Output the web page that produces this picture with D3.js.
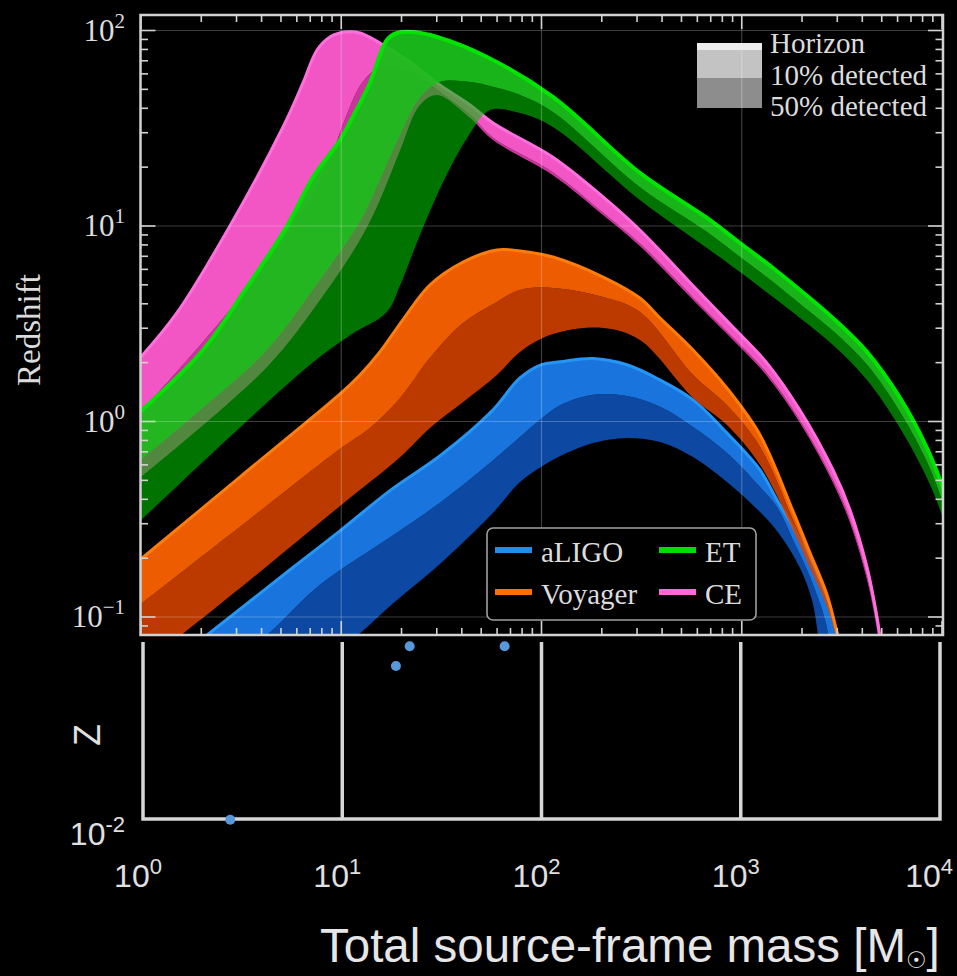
<!DOCTYPE html>
<html>
<head>
<meta charset="utf-8">
<script src="https://cdn.jsdelivr.net/npm/d3@7"></script>
<style>
  html, body { margin: 0; padding: 0; background: #000; }
  svg { display: block; }
</style>
</head>
<body>
<svg id="chart" width="957" height="976"></svg>
<script>
// ---------------------------------------------------------------
// Detection reach of ground-based GW detectors: redshift of the
// horizon, and the redshift at which 10% / 50% of sources are seen,
// as a function of total source-frame mass.  Pairs are [M, z].
// ---------------------------------------------------------------
const massTicks = [1, 10, 100, 1000, 10000];
const redshiftTicks = [0.1, 1, 10, 100];
const detectorNames = ["aLIGO", "Voyager", "ET", "CE"];
const reachLabels = ["Horizon", "10% detected", "50% detected"];

const aligoHorizon = [[1,0.0438],[2.14,0.0809],[5.61,0.176],[10.0,0.279],[17.7,0.447],[31.5,0.674],[56.0,1.12],[78.1,1.67],[99.4,1.95],[124,2.02],[181,2.10],[267,1.95],[391,1.63],[571,1.29],[844,0.873],[1234,0.565],[1500,0.397],[1803,0.289],[2192,0.196],[2666,0.122],[2991,0.0828],[3204,0.0568]];
const aligo10 = [[1,0.0252],[4.26,0.0809],[7.83,0.146],[17.7,0.257],[31.5,0.388],[56.0,0.621],[78.1,0.833],[99.4,1.03],[124,1.21],[181,1.37],[267,1.35],[391,1.19],[571,0.937],[844,0.690],[1234,0.462],[1500,0.365],[1803,0.248],[2192,0.160],[2605,0.0966],[2848,0.0603]];
const aligo50 = [[1,0.0110],[12.1,0.0809],[17.7,0.115],[31.5,0.189],[56.0,0.333],[78.1,0.490],[99.4,0.585],[124,0.666],[181,0.776],[267,0.823],[391,0.785],[571,0.658],[844,0.490],[1234,0.344],[1552,0.263],[1954,0.178],[2243,0.122],[2403,0.0809],[2488,0.0603]];

const voyagerHorizon = [[1,0.198],[3.16,0.526],[10.0,1.40],[12.4,1.73],[15.6,2.27],[20.3,3.31],[27.7,4.99],[40.6,6.54],[59.9,7.54],[78.1,7.45],[114,6.94],[203,5.48],[310,4.28],[391,3.38],[571,2.32],[844,1.48],[1234,0.853],[1803,0.348],[2192,0.213],[2666,0.130],[2991,0.0828],[3278,0.0535]];
const voyager10 = [[1,0.1165],[3.16,0.292],[10.0,0.732],[13.9,0.927],[19.7,1.32],[27.7,2.11],[40.6,3.19],[59.9,4.09],[78.1,4.71],[114,4.82],[203,4.33],[310,3.63],[571,1.73],[844,1.21],[1234,0.741],[1803,0.313],[2192,0.196],[2666,0.122],[2991,0.0799],[3278,0.0523]];
const voyager50 = [[1,0.0555],[3.16,0.142],[10.0,0.374],[19.7,0.658],[27.7,0.927],[40.6,1.26],[59.9,1.73],[78.1,2.27],[114,2.80],[203,3.01],[310,2.61],[571,1.32],[844,0.960],[1234,0.599],[1803,0.279],[2192,0.178],[2666,0.1125],[2991,0.0763],[3278,0.0505]];

const etHorizon = [[1,1.13],[2.04,2.32],[3.31,4.71],[5.36,10.0],[7.23,17.8],[9.86,27.5],[11.4,36.1],[13.9,53.9],[16.9,89.4],[19.0,97.1],[22.8,98.2],[30.1,92.6],[53.4,73.2],[114,45.7],[310,18.7],[671,11.0],[980,8.18],[1432,6.10],[1954,4.71],[2856,3.38],[4222,2.27],[6170,1.32],[8416,0.732],[10000,0.473],[12300,0.248]];
const et10 = [[1,0.636],[1.97,1.14],[4.26,2.32],[7.83,5.29],[12.4,10.5],[15.6,17.2],[19.7,29.2],[24.7,45.2],[31.1,54.5],[44.0,54.5],[55.3,52.0],[78.1,46.8],[114,38.3],[310,15.8],[671,9.32],[980,6.94],[1432,5.17],[1954,3.99],[2856,2.90],[4222,1.95],[6170,1.12],[8416,0.621],[10000,0.397],[12300,0.205]];
const et50 = [[1,0.313],[3.50,1.04],[7.23,2.01],[11.1,2.77],[16.9,3.63],[19.7,4.99],[24.7,8.99],[33.0,17.6],[42.5,28.2],[55.3,39.2],[78.1,37.8],[114,32.1],[310,13.6],[671,7.72],[980,5.82],[1432,4.33],[1954,3.38],[2856,2.46],[4222,1.63],[6170,0.927],[8416,0.514],[10000,0.332],[12300,0.164]];

const ceHorizon = [[1,2.14],[1.51,3.59],[2.78,10.0],[5.12,32.1],[6.44,53.9],[7.57,79.5],[8.78,92.6],[10.4,98.2],[12.4,97.1],[15.6,86.3],[22.0,69.0],[31.1,52.6],[44.0,41.6],[57.3,33.6],[114,22.5],[203,14.1],[310,9.54],[619,4.54],[904,3.04],[1337,1.99],[1954,1.14],[2856,0.565],[3473,0.353],[4222,0.180],[4737,0.100],[4902,0.0790],[5075,0.0603]];
const ce10 = [[1,1.12],[2.78,3.72],[6.22,11.4],[8.78,21.8],[10.4,34.8],[12.8,54.5],[15.6,64.3],[22.0,61.3],[31.1,48.5],[44.0,37.0],[57.3,28.3],[114,18.8],[203,11.7],[310,8.13],[619,3.96],[904,2.69],[1337,1.76],[1954,1.01],[2856,0.500],[3473,0.312],[4222,0.160],[4737,0.088],[5075,0.053]];
const ce50 = [[1,0.520],[4.26,1.90],[7.83,4.18],[12.4,8.48],[15.6,13.6],[19.7,24.5],[24.7,41.6],[30.1,46.8],[44.0,35.7],[57.3,27.5],[114,18.2],[203,11.4],[310,7.90],[619,3.85],[904,2.61],[1337,1.71],[1954,0.982],[2856,0.485],[3473,0.303],[4222,0.155],[4737,0.0858],[5075,0.0517]];

// Observed events for the lower strip: total mass and redshift
const eventMass = [2.74, 18.6, 21.8, 65.3];
const eventRedshift = [0.0099, 0.07, 0.09, 0.09];

// ---------------------------------------------------------------
const W = 957, H = 976;
const svg = d3.select("#chart");
svg.append("rect").attr("width", W).attr("height", H).attr("fill", "#000");

const serif = "'Liberation Serif', 'DejaVu Serif', 'Times New Roman', serif";
const sans = "'Liberation Sans', Arial, 'DejaVu Sans', sans-serif";
const axisGrey = "#d2d2d2";

// Upper panel frame and scales
const frame = { left: 140.5, right: 943, top: 15, bottom: 635 };
const x = d3.scaleLog().domain([1, 1e4]).range([141, 942]);
const y = d3.scaleLog().domain([0.1, 100]).range([617, 30.5]);

svg.append("defs").append("clipPath").attr("id", "plotClip")
  .append("rect")
  .attr("x", frame.left).attr("y", frame.top)
  .attr("width", frame.right - frame.left).attr("height", frame.bottom - frame.top);

const plot = svg.append("g").attr("clip-path", "url(#plotClip)");

const curve = d3.line()
  .x(d => x(d[0])).y(d => y(d[1]))
  .curve(d3.curveCatmullRom.alpha(0.5));

function bandPath(upper, lower) {
  return curve(upper) + curve(lower.slice().reverse()).replace(/^M/, "L") + "Z";
}

const detectors = [
  { name: "aLIGO",   horizon: aligoHorizon,   p10: aligo10,   p50: aligo50,
    upper: "rgb(26,116,222)", upperOp: 1, lower: "rgb(13,72,163)", lowerOp: 1,
    edge: "rgb(36,150,245)", edgeW: 3, key: "rgb(30,142,232)" },
  { name: "Voyager", horizon: voyagerHorizon, p10: voyager10, p50: voyager50,
    upper: "rgb(252,98,0)", upperOp: 0.94, lower: "rgb(214,66,0)", lowerOp: 0.88,
    edge: "rgb(255,125,10)", edgeW: 3, key: "rgb(255,112,0)" },
  { name: "CE",      horizon: ceHorizon,      p10: ce10,      p50: ce50,
    upper: "rgb(242,86,196)", upperOp: 1, lower: "rgb(202,52,156)", lowerOp: 1,
    edge: "rgb(255,112,222)", edgeW: 3, key: "rgb(255,104,214)" },
  { name: "ET",      horizon: etHorizon,      p10: et10,      p50: et50,
    upper: "rgb(26,190,26)", upperOp: 0.95, lower: "rgb(0,192,0)", lowerOp: 0.6,
    edge: "rgb(0,228,0)", edgeW: 4, key: "rgb(0,222,0)" }
];

detectors.forEach(d => {
  const g = plot.append("g").attr("class", "det-" + d.name);
  g.append("path").attr("d", bandPath(d.p10, d.p50))
    .attr("fill", d.lower).attr("fill-opacity", d.lowerOp);
  g.append("path").attr("d", bandPath(d.horizon, d.p10))
    .attr("fill", d.upper).attr("fill-opacity", d.upperOp);
  g.append("path").attr("d", curve(d.horizon))
    .attr("fill", "none").attr("stroke", d.edge).attr("stroke-width", d.edgeW);
});

// Key for the three shading levels (top right)
const keyG = svg.append("g");
const keyX = 697, keyW = 65;
[["#ededed", 43, 7], ["#c3c3c3", 50, 28], ["#8d8d8d", 78, 30]].forEach(([c, yy, h]) => {
  keyG.append("rect").attr("x", keyX).attr("y", yy).attr("width", keyW).attr("height", h).attr("fill", c);
});
reachLabels.forEach((t, i) => {
  keyG.append("text").attr("x", 770).attr("y", 53 + i * 31.5)
    .attr("font-family", serif).attr("font-size", 29).attr("fill", "#dcdcdc").text(t);
});

// Decade grid on top of the bands
const grid = svg.append("g").attr("stroke", "rgba(255,255,255,0.24)").attr("stroke-width", 1.2);
massTicks.slice(1, -1).forEach(v => {
  grid.append("line").attr("x1", x(v)).attr("x2", x(v)).attr("y1", frame.top).attr("y2", frame.bottom);
});
redshiftTicks.forEach(v => {
  grid.append("line").attr("x1", frame.left).attr("x2", frame.right).attr("y1", y(v)).attr("y2", y(v));
});

// Ticks on all four sides, pointing inward
const ticks = svg.append("g").attr("stroke", axisGrey).attr("stroke-width", 1.6);
const minorX = [], minorY = [];
[1, 10, 100, 1000].forEach(dec => { for (let k = 2; k <= 9; k++) minorX.push(dec * k); });
[0.01, 0.1, 1, 10, 100].forEach(dec => { for (let k = 2; k <= 9; k++) minorY.push(dec * k); });
const yVisible = v => y(v) >= frame.top && y(v) <= frame.bottom;
function xTick(v, len) {
  ticks.append("line").attr("x1", x(v)).attr("x2", x(v)).attr("y1", frame.top).attr("y2", frame.top + len);
  ticks.append("line").attr("x1", x(v)).attr("x2", x(v)).attr("y1", frame.bottom).attr("y2", frame.bottom - len);
}
function yTick(v, len) {
  if (!yVisible(v)) return;
  ticks.append("line").attr("y1", y(v)).attr("y2", y(v)).attr("x1", frame.left).attr("x2", frame.left + len);
  ticks.append("line").attr("y1", y(v)).attr("y2", y(v)).attr("x1", frame.right).attr("x2", frame.right - len);
}
massTicks.forEach(v => xTick(v, 14));
minorX.forEach(v => xTick(v, 7));
redshiftTicks.forEach(v => yTick(v, 15));
minorY.forEach(v => yTick(v, 7.5));

svg.append("rect")
  .attr("x", frame.left).attr("y", frame.top)
  .attr("width", frame.right - frame.left).attr("height", frame.bottom - frame.top)
  .attr("fill", "none").attr("stroke", axisGrey).attr("stroke-width", 2.5);

// Redshift tick labels
const expText = v => { const e = Math.round(Math.log10(v)); return e < 0 ? "\u2212" + (-e) : String(e); };
redshiftTicks.forEach(v => {
  const t = svg.append("text").attr("x", 125).attr("y", y(v) + 10)
    .attr("text-anchor", "end").attr("font-family", serif).attr("font-size", 31).attr("fill", "#dcdcdc");
  t.append("tspan").text("10");
  t.append("tspan").attr("font-size", 21).attr("dy", -13).text(expText(v));
});
svg.append("text")
  .attr("transform", "translate(40,330) rotate(-90)")
  .attr("text-anchor", "middle").attr("font-family", serif).attr("font-size", 33)
  .attr("fill", "#dcdcdc").text("Redshift");

// Detector legend (boxed)
const lg = svg.append("g");
lg.append("rect").attr("x", 487).attr("y", 528).attr("width", 269).attr("height", 92).attr("rx", 6)
  .attr("fill", "#000").attr("stroke", "#a0a0a0").attr("stroke-width", 1.6);
const legendOrder = ["aLIGO", "Voyager", "ET", "CE"];
legendOrder.forEach((name, i) => {
  const det = detectors.find(d => d.name === name);
  const col = Math.floor(i / 2), row = i % 2;
  const lx = 495 + col * 164, ly = 550 + row * 42;
  lg.append("line").attr("x1", lx).attr("x2", lx + 37).attr("y1", ly).attr("y2", ly)
    .attr("stroke", det.key).attr("stroke-width", 6);
  lg.append("text").attr("x", lx + 46).attr("y", ly + 12)
    .attr("font-family", serif).attr("font-size", 29).attr("fill", "#dcdcdc").text(name);
});

// ---------------------------------------------------------------
// Lower strip: observed events
// ---------------------------------------------------------------
const xLow = d3.scaleLog().domain([1, 1e4]).range([143, 940]);
const yLow = d3.scaleLog().domain([0.01, 0.1]).range([819, 638]);
const stripTop = 642;
const strip = svg.append("g").attr("stroke", "#d6d6d6").attr("stroke-width", 3.5).attr("fill", "none");
strip.append("path").attr("d", `M${xLow(1)},${stripTop}V${yLow(0.01)}H${xLow(1e4)}V${stripTop}`);
massTicks.slice(1, -1).forEach(v => {
  strip.append("line").attr("x1", xLow(v)).attr("x2", xLow(v)).attr("y1", stripTop).attr("y2", yLow(0.01));
});
svg.append("g").selectAll("circle").data(eventMass).join("circle")
  .attr("cx", d => xLow(d)).attr("cy", (d, i) => yLow(eventRedshift[i]))
  .attr("r", 5).attr("fill", "rgb(88,152,218)");

const lowTick = svg.append("text").attr("x", 125).attr("y", yLow(0.01) + 26)
  .attr("text-anchor", "end").attr("font-family", sans).attr("font-size", 32).attr("fill", "#e0e0e0");
lowTick.append("tspan").text("10");
lowTick.append("tspan").attr("font-size", 22).attr("dy", -13).text("-2");

svg.append("text").attr("transform", "translate(100,735) rotate(-90)")
  .attr("text-anchor", "middle").attr("font-family", sans).attr("font-size", 36)
  .attr("fill", "#e0e0e0").text("Z");

massTicks.forEach(v => {
  const t = svg.append("text").attr("x", xLow(v) - 5).attr("y", 887)
    .attr("text-anchor", "middle").attr("font-family", sans).attr("font-size", 32).attr("fill", "#e0e0e0");
  t.append("tspan").text("10");
  t.append("tspan").attr("font-size", 22).attr("dy", -13).text(String(Math.round(Math.log10(v))));
  const w = t.node().getComputedTextLength();
  if (xLow(v) - 5 + w / 2 > 953) t.attr("x", 953 - w / 2);
});

const title = svg.append("text").attr("x", 320).attr("y", 962)
  .attr("font-family", sans).attr("font-size", 47.5).attr("fill", "#e6e6e6");
title.append("tspan").text("Total source-frame mass [M");
title.append("tspan").attr("font-size", 23).attr("dy", 6).text("\u2609");
title.append("tspan").attr("dy", -6).text("]");
</script>
</body>
</html>
